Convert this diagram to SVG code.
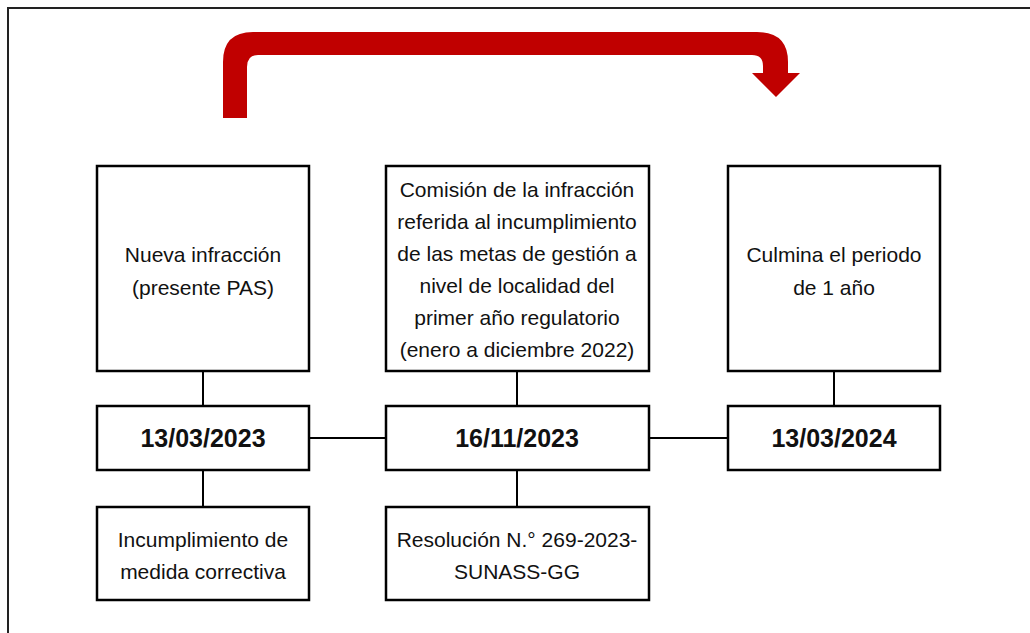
<svg xmlns="http://www.w3.org/2000/svg" width="1030" height="633" viewBox="0 0 1030 633">
<style>
.box{fill:#fff;stroke:#000;stroke-width:2.5}
.t{font-family:"Liberation Sans",Arial,sans-serif;font-size:21px;fill:#111;text-anchor:middle}
.d{font-family:"Liberation Sans",Arial,sans-serif;font-size:25px;font-weight:bold;fill:#111;text-anchor:middle}
.c{stroke:#000;stroke-width:2;fill:none}
</style>
<rect width="1030" height="633" fill="#fff"/>
<path d="M8,633 L8,8 L1030,8" fill="none" stroke="#222" stroke-width="2"/>
<g id="arrow">
<path d="M223,118 L223,62 Q223,32 253,32 L757,32 Q788,32 788,62 L788,73 L800,73 L776,97 L752,73 L763,73 L763,66 Q763,55 752,55 L258,55 Q247,55 247,67 L247,118 Z" fill="#C00000"/>
</g>
<g id="connectors">
<line class="c" x1="203" y1="371" x2="203" y2="406"/>
<line class="c" x1="517" y1="371" x2="517" y2="406"/>
<line class="c" x1="834" y1="371" x2="834" y2="406"/>
<line class="c" x1="309" y1="438" x2="386" y2="438"/>
<line class="c" x1="649" y1="438" x2="728" y2="438"/>
<line class="c" x1="203" y1="470" x2="203" y2="507"/>
<line class="c" x1="517" y1="470" x2="517" y2="507"/>
</g>
<g id="nueva">
<rect class="box" x="97" y="166" width="212" height="205"/>
<text class="t" x="203" y="262">Nueva infracción</text>
<text class="t" x="203" y="295">(presente PAS)</text>
</g>
<g id="comision">
<rect class="box" x="386" y="166" width="263" height="205"/>
<text class="t" x="517" y="197">Comisión de la infracción</text>
<text class="t" x="517" y="229">referida al incumplimiento</text>
<text class="t" x="517" y="261">de las metas de gestión a</text>
<text class="t" x="517" y="293">nivel de localidad del</text>
<text class="t" x="517" y="325">primer año regulatorio</text>
<text class="t" x="517" y="357">(enero a diciembre 2022)</text>
</g>
<g id="culmina">
<rect class="box" x="728" y="166" width="212" height="205"/>
<text class="t" x="834" y="262">Culmina el periodo</text>
<text class="t" x="834" y="295">de 1 año</text>
</g>
<g id="d1">
<rect class="box" x="97" y="406" width="212" height="64"/>
<text class="d" x="203" y="447">13/03/2023</text>
</g>
<g id="d2">
<rect class="box" x="386" y="406" width="263" height="64"/>
<text class="d" x="517" y="447">16/11/2023</text>
</g>
<g id="d3">
<rect class="box" x="728" y="406" width="212" height="64"/>
<text class="d" x="834" y="447">13/03/2024</text>
</g>
<g id="incumplimiento">
<rect class="box" x="97" y="507" width="212" height="93"/>
<text class="t" x="203" y="547">Incumplimiento de</text>
<text class="t" x="203" y="579">medida correctiva</text>
</g>
<g id="resolucion">
<rect class="box" x="386" y="507" width="263" height="93"/>
<text class="t" x="517" y="547">Resolución N.° 269-2023-</text>
<text class="t" x="517" y="579">SUNASS-GG</text>
</g>
</svg>
